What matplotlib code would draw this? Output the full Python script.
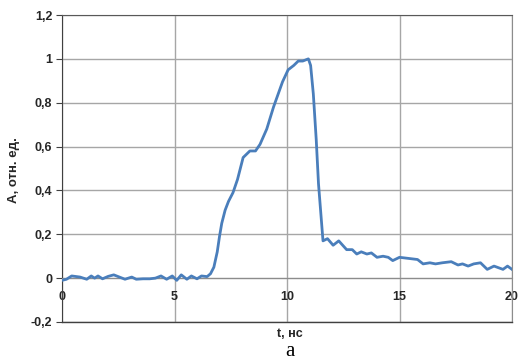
import matplotlib
matplotlib.use("Agg")
import matplotlib.pyplot as plt

t = [0.0, 0.2, 0.43, 0.8, 1.1, 1.3, 1.45, 1.6, 1.8, 2.05, 2.3, 2.55, 2.8, 3.1, 3.3, 3.6, 3.9, 4.15, 4.4, 4.65,
     4.9, 5.1, 5.3, 5.55, 5.75, 6.0, 6.2, 6.45, 6.6, 6.75, 6.9, 7.0, 7.1, 7.25, 7.4, 7.6, 7.8, 8.05, 8.35,
     8.6, 8.8, 9.1, 9.4, 9.8, 10.05, 10.3, 10.5, 10.7, 10.95, 11.05, 11.17, 11.3, 11.4, 11.5, 11.6, 11.8,
     12.05, 12.3, 12.65, 12.9, 13.1, 13.3, 13.55, 13.75, 14.0, 14.27, 14.5, 14.7, 15.0, 15.4, 15.8, 16.05,
     16.35, 16.6, 16.9, 17.3, 17.6, 17.8, 18.05, 18.3, 18.6, 18.9, 19.2, 19.6, 19.8, 20.0]
a = [-0.01, -0.005, 0.01, 0.005, -0.005, 0.01, 0.0, 0.01, -0.003, 0.008, 0.015, 0.005, -0.005, 0.005, -0.005, -0.003, -0.003, 0.0, 0.01, -0.005,
     0.01, -0.01, 0.015, -0.005, 0.01, -0.003, 0.01, 0.007, 0.02, 0.05, 0.12, 0.19, 0.25, 0.31, 0.35, 0.39, 0.45, 0.55, 0.58,
     0.58, 0.61, 0.68, 0.78, 0.895, 0.95, 0.97, 0.99, 0.99, 1.0, 0.97, 0.84, 0.63, 0.43, 0.30, 0.17, 0.18,
     0.15, 0.17, 0.13, 0.13, 0.11, 0.12, 0.11, 0.115, 0.095, 0.10, 0.095, 0.08, 0.095, 0.09, 0.085, 0.065,
     0.07, 0.065, 0.07, 0.075, 0.06, 0.065, 0.055, 0.065, 0.07, 0.04, 0.055, 0.04, 0.055, 0.04]

xticks = [0, 5, 10, 15, 20]
yticks = [-0.2, 0, 0.2, 0.4, 0.6, 0.8, 1.0, 1.2]
ylabels = ["-0,2", "0", "0,2", "0,4", "0,6", "0,8", "1", "1,2"]

W, H = 519, 362
fig = plt.figure(figsize=(W / 100, H / 100), dpi=100)
ax = fig.add_axes([62 / W, 1 - 322 / H, (512 - 62) / W, (322 - 15) / H])

ax.set_xlim(0, 20)
ax.set_ylim(-0.2, 1.2)
ax.set_xticks(xticks)
ax.set_yticks(yticks)
ax.set_yticklabels(ylabels)
ax.set_xticklabels([str(v) for v in xticks])

ax.grid(True, color="#a6a6a6", linewidth=1.0)
ax.set_axisbelow(True)

ax.spines["bottom"].set_position(("data", 0))
ax.spines["bottom"].set_color("#8c8c8c")
ax.spines["left"].set_color("#404040")
ax.spines["top"].set_color("#595959")
ax.spines["right"].set_color("#8c8c8c")
ax.axhline(-0.2, color="#404040", linewidth=1.0, clip_on=False, zorder=3)

ax.tick_params(axis="x", length=0, pad=9)
ax.tick_params(axis="y", length=4, color="#404040", pad=3)
for lbl in ax.get_xticklabels() + ax.get_yticklabels():
    lbl.set_fontfamily("Liberation Sans")
    lbl.set_fontweight("bold")
    lbl.set_fontsize(9)
    lbl.set_color("#262626")

ax.plot(t, a, color="#4a7ebb", linewidth=2.0, zorder=4, solid_joinstyle="round")

fig.text(14 / W, 1 - 170 / H, "А, отн. ед.", rotation=90, ha="center", va="center",
         fontfamily="Liberation Sans", fontweight="bold", fontsize=9.5, color="#262626")
fig.text(290 / W, 1 - 334 / H, "t, нс", ha="center", va="center",
         fontfamily="Liberation Sans", fontweight="bold", fontsize=9, color="#262626")
fig.text(290 / W, 1 - 352 / H, "а", ha="center", va="center",
         fontfamily="Liberation Serif", fontsize=15, color="black")

fig.savefig("out.png", dpi=100)
